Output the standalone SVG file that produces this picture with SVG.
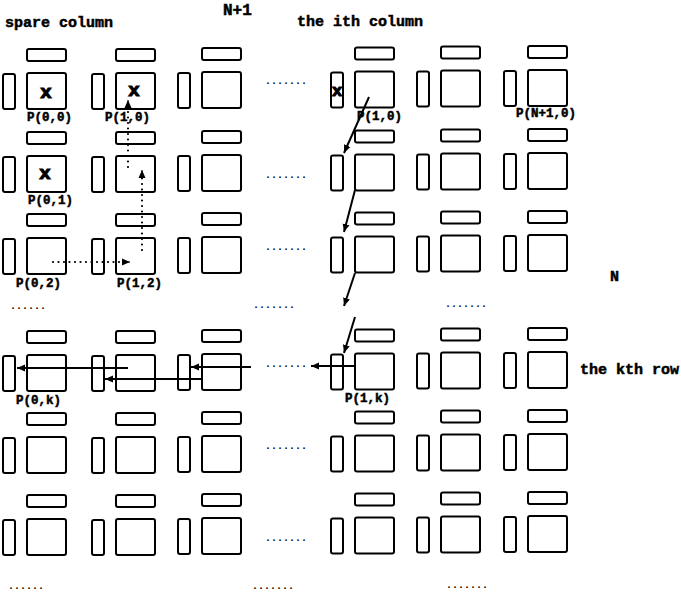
<svg xmlns="http://www.w3.org/2000/svg" xmlns:xlink="http://www.w3.org/1999/xlink" width="681" height="592" viewBox="0 0 681 592">
<style>
.box{fill:none;stroke:#000;stroke-width:2}
.t{font-family:"Liberation Mono","Courier New",monospace;font-weight:bold;fill:#000;stroke:#000;stroke-width:0.5}
.lbl{font-size:12.5px}
.hd{font-size:15px}
.xm{font-size:19px;text-anchor:middle;stroke-width:1.2}
.dots{font-family:"Liberation Mono",monospace;font-size:10px;font-weight:bold;fill:#000;opacity:0.99}
.sol{fill:none;stroke:#000;stroke-width:2}
.dot{fill:none;stroke:#000;stroke-width:2.2;stroke-linecap:round;stroke-dasharray:0 5.5}
</style>
<defs>
<g id="cell" class="box">
<rect x="0" y="-24" width="39" height="12" rx="2"/>
<rect x="-24" y="1" width="12" height="35" rx="2"/>
<rect x="0" y="0" width="39" height="36" rx="2"/>
</g>
<marker id="ah" markerUnits="userSpaceOnUse" markerWidth="9" markerHeight="8" refX="8" refY="4" orient="auto">
<path d="M0,0.5 L8,4 L0,7.5 z" fill="#000"/>
</marker>
</defs>
<rect width="681" height="592" fill="#fff"/>

<!-- headings -->
<text class="t hd" x="223" y="15" style="font-size:16px">N+1</text>
<text class="t hd" x="5" y="27">spare column</text>
<text class="t hd" x="297" y="26">the ith column</text>
<text class="t hd" x="610" y="281">N</text>
<text class="t hd" x="580" y="374">the kth row</text>

<!-- nodes -->
<g id="n-c0-r0"><use href="#cell" x="27" y="73"/><text class="t xm" x="46" y="98">x</text></g>
<g id="n-c0-r1"><use href="#cell" x="27" y="156"/><text class="t xm" x="45" y="179">x</text></g>
<g id="n-c0-r2"><use href="#cell" x="27" y="238"/></g>
<g id="n-c0-rk"><use href="#cell" x="27" y="355"/></g>
<g id="n-c0-rk1"><use href="#cell" x="27" y="437"/></g>
<g id="n-c0-rk2"><use href="#cell" x="27" y="519"/></g>

<g id="n-c1-r0"><use href="#cell" x="116" y="73"/><text class="t xm" x="134" y="96">x</text></g>
<g id="n-c1-r1"><use href="#cell" x="116" y="156"/></g>
<g id="n-c1-r2"><use href="#cell" x="116" y="238"/></g>
<g id="n-c1-rk"><use href="#cell" x="116" y="355"/></g>
<g id="n-c1-rk1"><use href="#cell" x="116" y="437"/></g>
<g id="n-c1-rk2"><use href="#cell" x="116" y="519"/></g>

<g id="n-c2-r0"><use href="#cell" x="202" y="72"/></g>
<g id="n-c2-r1"><use href="#cell" x="202" y="155"/></g>
<g id="n-c2-r2"><use href="#cell" x="202" y="237"/></g>
<g id="n-c2-rk"><use href="#cell" x="202" y="354"/></g>
<g id="n-c2-rk1"><use href="#cell" x="202" y="436"/></g>
<g id="n-c2-rk2"><use href="#cell" x="202" y="518"/></g>

<g id="n-c3-r0"><use href="#cell" x="355" y="71.5"/><text class="t xm" x="337" y="96" style="font-size:17px">x</text></g>
<g id="n-c3-r1"><use href="#cell" x="355" y="154.5"/></g>
<g id="n-c3-r2"><use href="#cell" x="355" y="236.5"/></g>
<g id="n-c3-rk"><use href="#cell" x="355" y="353.5"/></g>
<g id="n-c3-rk1"><use href="#cell" x="355" y="435.5"/></g>
<g id="n-c3-rk2"><use href="#cell" x="355" y="517.5"/></g>

<g id="n-c4-r0"><use href="#cell" x="441" y="70.5"/></g>
<g id="n-c4-r1"><use href="#cell" x="441" y="153.5"/></g>
<g id="n-c4-r2"><use href="#cell" x="441" y="235.5"/></g>
<g id="n-c4-rk"><use href="#cell" x="441" y="352.5"/></g>
<g id="n-c4-rk1"><use href="#cell" x="441" y="434.5"/></g>
<g id="n-c4-rk2"><use href="#cell" x="441" y="516.5"/></g>

<g id="n-c5-r0"><use href="#cell" x="528" y="70"/></g>
<g id="n-c5-r1"><use href="#cell" x="528" y="153"/></g>
<g id="n-c5-r2"><use href="#cell" x="528" y="235"/></g>
<g id="n-c5-rk"><use href="#cell" x="528" y="352"/></g>
<g id="n-c5-rk1"><use href="#cell" x="528" y="434"/></g>
<g id="n-c5-rk2"><use href="#cell" x="528" y="516"/></g>

<!-- ellipses -->
<g id="ellipses" class="dots">
<text x="265" y="84">.......</text>
<text x="265" y="178">.......</text>
<text x="265" y="250">.......</text>
<text x="10" y="309">......</text>
<text x="253" y="308">.......</text>
<text x="445" y="307">.......</text>
<text x="265" y="367">.......</text>
<text x="265" y="449">.......</text>
<text x="265" y="541">.......</text>
<text x="8" y="589">......</text>
<text x="252" y="589">.......</text>
<text x="446" y="588">.......</text>
</g>

<!-- connectors -->
<g id="connectors">
<path class="sol" d="M369,97 L344,153" marker-end="url(#ah)"/>
<path class="sol" d="M355,190 L344,232" marker-end="url(#ah)"/>
<path class="sol" d="M355,273 L344,306" marker-end="url(#ah)"/>
<path class="sol" d="M355,317 L344,353" marker-end="url(#ah)"/>
<path class="sol" d="M355,366 L311,366" marker-end="url(#ah)"/>
<path class="sol" d="M251,367 L191,367" marker-end="url(#ah)"/>
<path class="sol" d="M202,379 L105,379" marker-end="url(#ah)"/>
<path class="sol" d="M128,368 L17,368" marker-end="url(#ah)"/>
<path class="dot" d="M53,262 L124,262"/>
<path class="sol" d="M124,262 L130,262" marker-end="url(#ah)" style="stroke-width:1"/>
<path class="dot" d="M142,250 L142,177"/>
<path class="sol" d="M142,177 L142,170" marker-end="url(#ah)" style="stroke-width:1"/>
<path class="dot" d="M128,167 L128,107"/>
<path class="sol" d="M128,107 L128,100" marker-end="url(#ah)" style="stroke-width:1"/>
</g>

<!-- labels -->
<g id="labels" class="t lbl">
<text x="27" y="121">P(0,0)</text>
<text x="105" y="121">P(1,0)</text>
<text x="357" y="120">P(1,0)</text>
<text x="516" y="117">P(N+1,0)</text>
<text x="28" y="204">P(0,1)</text>
<text x="16" y="287">P(0,2)</text>
<text x="117" y="287">P(1,2)</text>
<text x="16" y="404">P(0,k)</text>
<text x="345" y="402">P(1,k)</text>
</g>
</svg>
